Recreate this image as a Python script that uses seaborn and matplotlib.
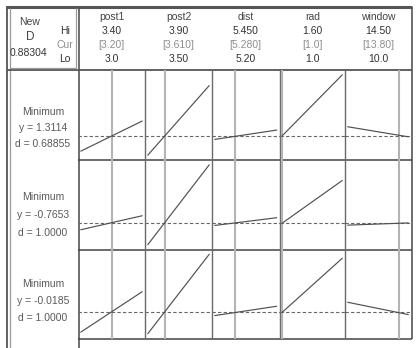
import matplotlib
matplotlib.use("Agg")
import matplotlib.pyplot as plt
import seaborn as sns
import pandas as pd
from matplotlib.lines import Line2D

# ---------------- data ----------------
factors = ["post1", "post2", "dist", "rad", "window"]
x_hi = [3.40, 3.90, 5.450, 1.60, 14.50]
x_cur = [3.20, 3.610, 5.280, 1.0, 13.80]
x_lo = [3.0, 3.50, 5.20, 1.0, 10.0]
hi_labels = ["3.40", "3.90", "5.450", "1.60", "14.50"]
cur_labels = ["[3.20]", "[3.610]", "[5.280]", "[1.0]", "[13.80]"]
lo_labels = ["3.0", "3.50", "5.20", "1.0", "10.0"]

goals = ["Minimum", "Minimum", "Minimum"]
y_current = [1.3114, -0.7653, -0.0185]
y_labels = ["y = 1.3114", "y = -0.7653", "y = -0.0185"]
d_labels = ["d = 0.68855", "d = 1.0000", "d = 1.0000"]
composite_label = "0.88304"

# response values at each factor's Lo and Hi (other factors at current)
resp1_lo = [1.158, 1.118, 1.275, 1.311, 1.401]
resp1_hi = [1.458, 1.811, 1.368, 1.918, 1.301]
resp2_lo = [-0.831, -0.981, -0.788, -0.765, -0.785]
resp2_hi = [-0.691, -0.181, -0.711, -0.338, -0.763]
resp3_lo = [-0.219, -0.235, -0.052, -0.019, 0.082]
resp3_hi = [0.189, 0.566, 0.042, 0.526, -0.042]
resp_lo = [resp1_lo, resp2_lo, resp3_lo]
resp_hi = [resp1_hi, resp2_hi, resp3_hi]

# ---------------- style ----------------
sns.set_theme(style="white")
plt.rcParams["font.family"] = ["Liberation Sans", "DejaVu Sans"]

W, H = 418, 348
fig = plt.figure(figsize=(W / 100, H / 100), dpi=100)
fig.patch.set_facecolor("white")

ov = fig.add_axes([0, 0, 1, 1])
ov.set_xlim(0, W)
ov.set_ylim(H, 0)
ov.axis("off")

col_x = [78, 145, 212, 279.5, 345, 411]
row_y = [70, 160, 249.5, 338.5]

def hl(x0, x1, y, c="#555555", lw=1.0):
    ov.add_line(Line2D([x0, x1], [y, y], color=c, lw=lw, solid_capstyle="butt"))

def vl(x, y0, y1, c="#555555", lw=1.0):
    ov.add_line(Line2D([x, x], [y0, y1], color=c, lw=lw, solid_capstyle="butt"))

# outer frame
hl(6, 412, 7, "#555555", 2.2)
vl(7, 6, 348, "#555555", 1.3)
vl(10, 8, 348, "#9a9a9a", 0.9)
vl(411.5, 7, 339, "#555555", 1.2)
# header box
hl(7, 412, 70, "#555555", 1.3)
hl(10, 76, 68, "#9a9a9a", 0.9)
vl(76, 8, 68, "#9a9a9a", 0.9)
vl(78.5, 7, 348, "#555555", 1.2)
# row separators and bottom
for y in row_y[1:]:
    hl(78, 412, y, "#444444", 1.1)
# column separators
for x in col_x[1:-1]:
    vl(x, 70, 338.5, "#6a6a6a", 1.0)

# header texts
fs = 7.5
hdr_y = [17.5, 31.5, 45.5, 59.5]
for i, f in enumerate(factors):
    cx = (col_x[i] + col_x[i + 1]) / 2
    ov.text(cx, hdr_y[0], f, ha="center", va="center", fontsize=fs, color="#444444")
    ov.text(cx, hdr_y[1], hi_labels[i], ha="center", va="center", fontsize=fs, color="#333333")
    ov.text(cx, hdr_y[2], cur_labels[i], ha="center", va="center", fontsize=fs, color="#8e8e8e")
    ov.text(cx, hdr_y[3], lo_labels[i], ha="center", va="center", fontsize=fs, color="#333333")

ov.text(30, 22, "New", ha="center", va="center", fontsize=fs, color="#444444")
ov.text(30, 37.5, "D", ha="center", va="center", fontsize=fs + 1, color="#444444")
ov.text(28, 53, composite_label, ha="center", va="center", fontsize=fs, color="#333333")
ov.text(65, hdr_y[1], "Hi", ha="center", va="center", fontsize=fs, color="#333333")
ov.text(65, hdr_y[2], "Cur", ha="center", va="center", fontsize=fs, color="#8e8e8e")
ov.text(65, hdr_y[3], "Lo", ha="center", va="center", fontsize=fs, color="#333333")

label_rows = [[112, 128, 144], [197, 215, 233], [284, 301, 318]]
for r in range(3):
    ys = label_rows[r]
    ov.text(43, ys[0], goals[r], ha="center", va="center", fontsize=fs, color="#5a5a5a")
    ov.text(43, ys[1], y_labels[r], ha="center", va="center", fontsize=fs, color="#5a5a5a")
    ov.text(43, ys[2], d_labels[r], ha="center", va="center", fontsize=fs, color="#5a5a5a")

# ---------------- cells ----------------
pad_x = 0.045
pad_y = 0.06
for r in range(3):
    vals = resp_lo[r] + resp_hi[r]
    ymin, ymax = min(vals), max(vals)
    span = ymax - ymin
    y0, y1 = row_y[r], row_y[r + 1]
    for c in range(5):
        x0, x1 = col_x[c], col_x[c + 1]
        ax = fig.add_axes([x0 / W, 1 - y1 / H, (x1 - x0) / W, (y1 - y0) / H])
        rng = x_hi[c] - x_lo[c]
        ax.axvline(x_cur[c], color="#b4b4b4", lw=1.5, zorder=1)
        ax.axhline(y_current[r], color="#666666", lw=0.8, ls=(0, (3, 2)), zorder=2)
        df = pd.DataFrame({"x": [x_lo[c], x_hi[c]], "y": [resp_lo[r][c], resp_hi[r][c]]})
        sns.lineplot(data=df, x="x", y="y", ax=ax, color="#505050", lw=0.85, zorder=3,
                     legend=False)
        ax.set_xlim(x_lo[c] - pad_x * rng, x_hi[c] + pad_x * rng)
        ax.set_ylim(ymin - pad_y * span, ymax + pad_y * span)
        ax.axis("off")

fig.savefig("out.png", dpi=100, facecolor="white")
